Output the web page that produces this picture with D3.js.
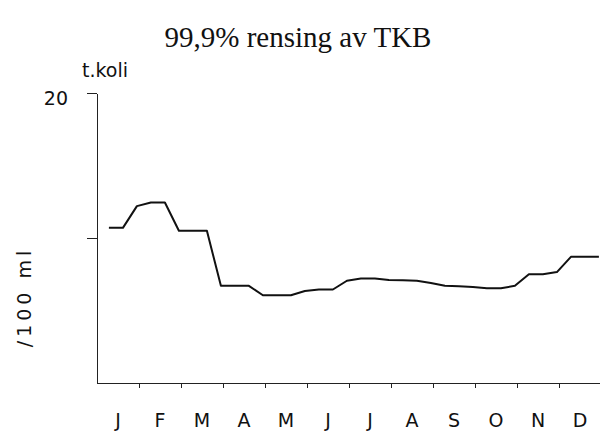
<!DOCTYPE html>
<html>
  <head>
	<meta charset="utf-8">
	<title>99,9% rensing av TKB</title>
	<script src="https://d3js.org/d3.v7.min.js"></script>
	<style>
	body { margin: 0; background: white; }
	.axis path, .axis line { stroke: #222; stroke-width: 1.4; shape-rendering: crispEdges; }
	.axis text { font-family: "DejaVu Sans", sans-serif; font-size: 19px; fill: #111; }
	.lbl { font-family: "DejaVu Sans", sans-serif; font-size: 19px; fill: #111; }
	</style>
  </head>
  <body>
	<svg id="chart" width="600" height="433"></svg>
	<script type="text/javascript">
		// month letters along the x axis
		var months = ["J", "F", "M", "A", "M", "J", "J", "A", "S", "O", "N", "D"];
		// t.koli /100 ml, one value for every ten days (36 periods)
		var values = [10.7, 10.7, 12.2, 12.45, 12.45, 10.5, 10.5, 10.5, 6.7, 6.7, 6.7, 6.05,
			6.05, 6.05, 6.35, 6.45, 6.45, 7.05, 7.2, 7.2, 7.1, 7.08, 7.05, 6.9,
			6.7, 6.67, 6.62, 6.53, 6.53, 6.7, 7.5, 7.5, 7.65, 8.7, 8.7, 8.7];
		var yTicks = [10, 20];
		var monthTicks = [1, 2, 3, 4, 5, 6, 7, 8, 9, 10, 11];

		var svg = d3.select("#chart");

		var x = d3.scaleLinear().domain([0, 12]).range([97, 601]);
		var y = d3.scaleLinear().domain([0, 20]).range([383, 93]);
		var xBand = d3.scaleBand().domain(d3.range(12)).range([97, 601]);

		svg.append("text")
			.attr("x", 298)
			.attr("y", 47)
			.attr("text-anchor", "middle")
			.attr("font-family", "'Liberation Serif', 'Times New Roman', serif")
			.attr("font-size", 29)
			.attr("fill", "#111")
			.text("99,9% rensing av TKB");

		svg.append("text")
			.attr("class", "lbl")
			.attr("x", 82)
			.attr("y", 77)
			.attr("font-size", 18)
			.text("t.koli");

		svg.append("text")
			.attr("class", "lbl")
			.attr("transform", "translate(31,297) rotate(-90)")
			.attr("text-anchor", "middle")
			.attr("letter-spacing", 4)
			.text("/100 ml");

		// y axis, only the top value is labelled
		var yAxis = svg.append("g")
			.attr("class", "axis")
			.attr("transform", "translate(97,0)")
			.call(d3.axisLeft(y).tickValues(yTicks).tickSize(10).tickSizeOuter(0).tickPadding(19)
				.tickFormat(function(d) { return d === 20 ? "20" : ""; }));
		yAxis.selectAll("text").attr("dy", "0.6em");

		// x axis with month boundary ticks
		svg.append("g")
			.attr("class", "axis")
			.attr("transform", "translate(0,383)")
			.call(d3.axisBottom(x).tickValues(monthTicks).tickSize(5).tickSizeOuter(0).tickFormat(""));

		// month letters
		var mAxis = svg.append("g")
			.attr("class", "axis")
			.attr("transform", "translate(0,383)")
			.call(d3.axisBottom(xBand).tickSize(0).tickPadding(31)
				.tickFormat(function(i) { return months[i]; }));
		mAxis.select(".domain").remove();
		mAxis.selectAll("text").attr("font-size", 20);

		var line = d3.line()
			.x(function(d, i) { return x((i + 0.85) / 3); })
			.y(function(d) { return y(d); });

		svg.append("path")
			.datum(values)
			.attr("fill", "none")
			.attr("stroke", "#111")
			.attr("stroke-width", 2)
			.attr("stroke-linejoin", "round")
			.attr("d", line);
	</script>
  </body>
</html>
